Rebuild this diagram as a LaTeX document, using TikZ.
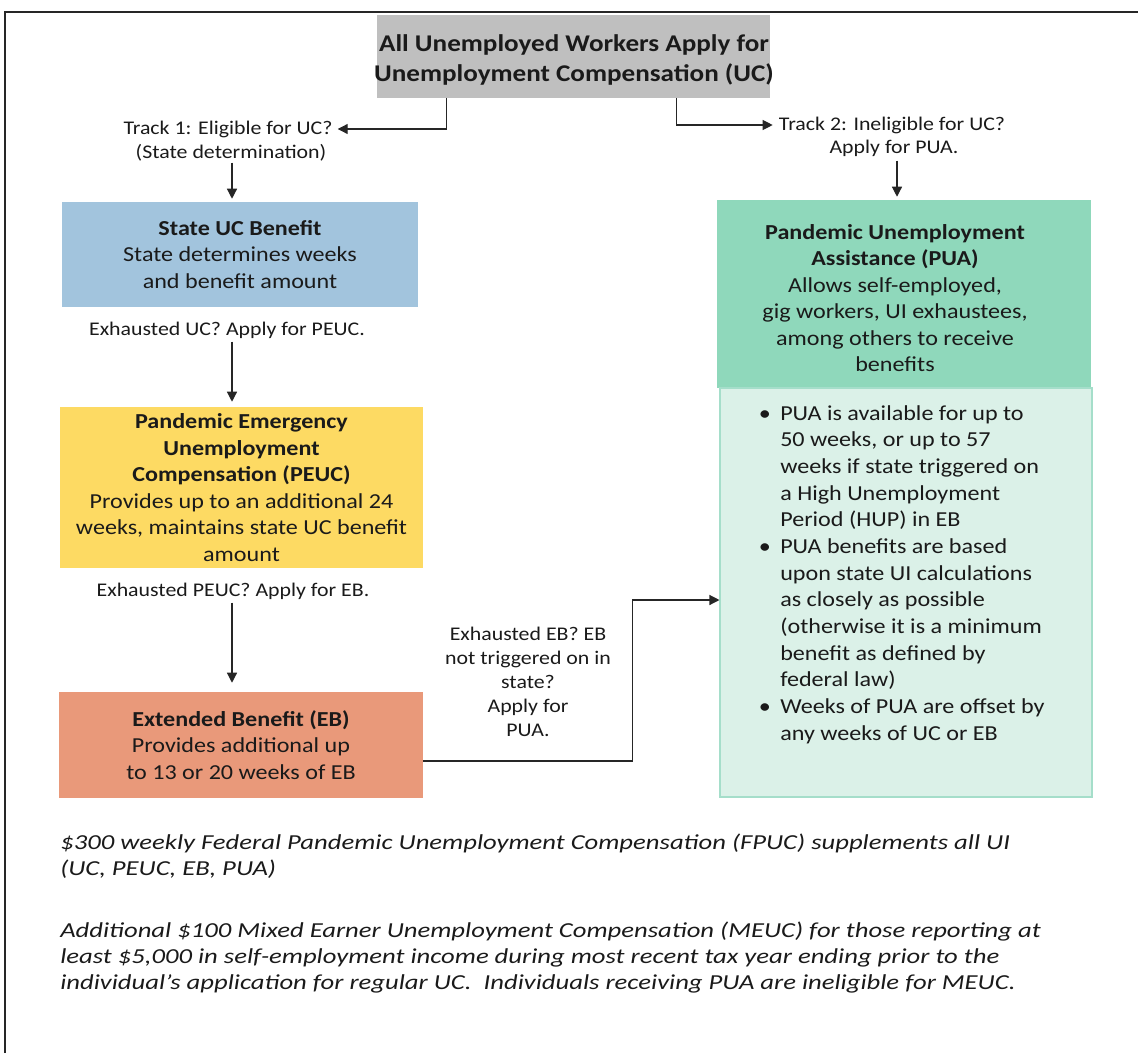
\documentclass[tikz,border=0pt]{standalone}
\usepackage{fontspec}
\setmainfont{Carlito}[FakeStretch=1.13]
\newfontfamily\notefont{Carlito}[FakeStretch=1.25]
\usetikzlibrary{arrows.meta,calc}
\definecolor{cgray}{HTML}{BFBFBF}
\definecolor{cblue}{HTML}{A2C4DD}
\definecolor{cyellow}{HTML}{FDDA63}
\definecolor{corange}{HTML}{E9997A}
\definecolor{cgreen}{HTML}{8FD8BB}
\definecolor{clight}{HTML}{DBF1E8}
\definecolor{cborder}{HTML}{A5DECA}
\definecolor{ctext}{HTML}{1A1A1A}
\begin{document}
\begin{tikzpicture}[x=0.75pt,y=-0.75pt,
  box/.style={inner sep=0pt, align=center, text=ctext, font=\fontsize{16}{19.9}\selectfont},
  lbl/.style={inner sep=0pt, align=center, text=ctext, font=\fontsize{14.5}{18}\selectfont},
  arr/.style={draw=black!85, line width=0.9pt, -{Triangle[length=7.5pt,width=7.5pt]}},
  note/.style={inner sep=0pt, align=left, text=ctext, font=\notefont\fontsize{16}{19.5}\selectfont\itshape}]
\useasboundingbox (0,0) rectangle (1138,1053);
% frame
\draw[line width=1.5pt, black!85] (5,1053) -- (5,12) -- (1138,12);
% boxes
\node[box, fill=cgray, minimum width=294.75pt, minimum height=62.25pt] (top) at (573.5,56.5) {};
\node[box, font=\fontsize{18}{22.5}\selectfont\bfseries] (toptxt) at (574,60)
  {All Unemployed Workers Apply for\\Unemployment Compensation (UC)};
\node[box, fill=cblue, minimum width=267pt, minimum height=78.75pt] (uc) at (240,254.5)
  {\textbf{State UC Benefit}\\State determines weeks\\and benefit amount};
\node[box, fill=cyellow, minimum width=272.25pt, minimum height=120.75pt] (peuc) at (241.5,487.5)
  {\textbf{Pandemic Emergency}\\\textbf{Unemployment}\\\textbf{Compensation (PEUC)}\\Provides up to an additional 24\\weeks, maintains state UC benefit\\amount};
\node[box, fill=corange, minimum width=273pt, minimum height=79.5pt] (eb) at (241,745)
  {\textbf{Extended Benefit (EB)}\\Provides additional up\\to 13 or 20 weeks of EB};
\node[box, fill=cgreen, minimum width=280.5pt, minimum height=141pt] (pua) at (904,294) {};
\node[box] (puatxt) at (895,298)
  {\textbf{Pandemic Unemployment}\\\textbf{Assistance (PUA)}\\Allows self-employed,\\gig workers, UI exhaustees,\\among others to receive\\benefits};
\node[box, fill=clight, draw=cborder, line width=0.8pt, minimum width=279pt, minimum height=306.75pt] (bul) at (906,592.5) {};
\node[box, align=left, anchor=north west, font=\fontsize{16}{20}\selectfont] (bultxt) at (780,405)
  {\llap{\textbullet\hspace{7pt}}PUA is available for up to\\
   50 weeks, or up to 57\\
   weeks if state triggered on\\
   a High Unemployment\\
   Period (HUP) in EB\\
   \llap{\textbullet\hspace{7pt}}PUA benefits are based\\
   upon state UI calculations\\
   as closely as possible\\
   (otherwise it is a minimum\\
   benefit as defined by\\
   federal law)\\
   \llap{\textbullet\hspace{7pt}}Weeks of PUA are offset by\\
   any weeks of UC or EB};
% labels
\node[lbl] (t1) at (228,129) {Track 1: Eligible for UC?};
\node[lbl] (t1b) at (231,153) {(State determination)};
\node[lbl] (t2) at (892,125) {Track 2: Ineligible for UC?};
\node[lbl] (t2b) at (894,148) {Apply for PUA.};
\node[lbl] (e1) at (227,330) {Exhausted UC? Apply for PEUC.};
\node[lbl] (e2) at (233,591) {Exhausted PEUC? Apply for EB.};
\node[lbl] (e3) at (528,681.5) {Exhausted EB? EB\\not triggered on in\\state?\\Apply for\\PUA.};
% notes
\node[note, anchor=west] (n1) at (60,856)
  {\$300 weekly Federal Pandemic Unemployment Compensation (FPUC) supplements all UI\\(UC, PEUC, EB, PUA)};
\node[note, anchor=west] (n2) at (60,958)
  {Additional \$100 Mixed Earner Unemployment Compensation (MEUC) for those reporting at\\least \$5,000 in self-employment income during most recent tax year ending prior to the\\individual’s application for regular UC.\ \ Individuals receiving PUA are ineligible for MEUC.};
% connectors
\draw[arr] ($(top.south west)+(70,0)$) |- ($(t1.east)+(5,0)$);
\draw[arr] ($(top.south west)+(300,0)$) |- ($(t2.west)+(-6,0)$);
\draw[arr] ($(t1b.south)+(1,1)$) coordinate (a1) -- ($(a1 |- uc.north)+(0,-3)$);
\draw[arr] ($(t2b.south)+(3,4)$) coordinate (a2) -- ($(a2 |- pua.north)+(0,-3)$);
\draw[arr] ($(e1.south)+(5,3)$) coordinate (a3) -- ($(a3 |- peuc.north)+(0,-5)$);
\draw[arr] ($(e2.south)+(-1,3)$) coordinate (a4) -- ($(a4 |- eb.north)+(0,-9)$);
\draw[arr] ($(eb.east)+(0,16)$) -- ($(eb.east)+(209,16)$) |- ($(bul.west)+(0,7.5)$);
\end{tikzpicture}
\end{document}
